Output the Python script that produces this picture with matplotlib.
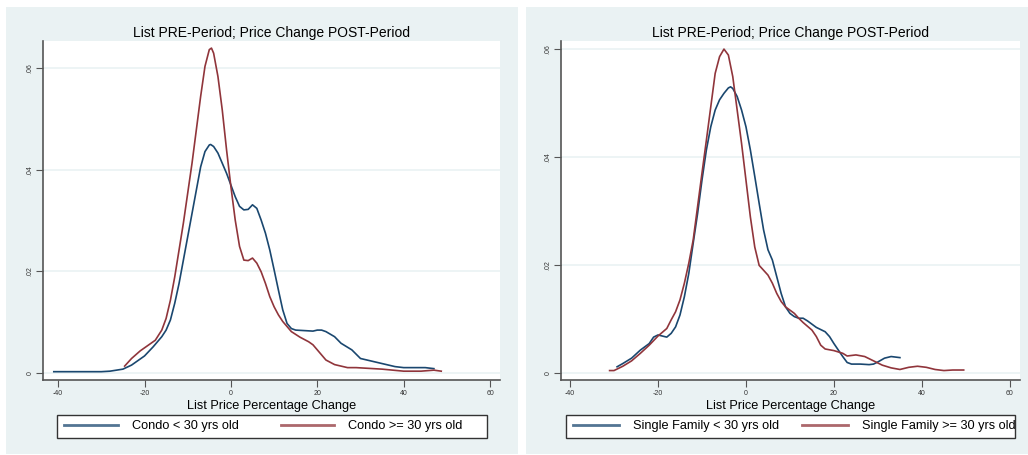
import matplotlib.pyplot as plt
import matplotlib.patches as patches
import numpy as np

# Condo panel (left)
condo_new_x = [-41, -30, -28, -25, -23, -20, -18, -16, -15, -14, -13, -12, -11, -10, -9, -8, -7, -6, -5, -4.7,
               -4, -3, -2, -1, 0, 1, 2, 3, 4, 5, 6, 7, 8, 9, 10, 11, 12, 13, 14, 15, 17, 19, 20, 21, 22, 24,
               25.5, 28, 30, 32, 35, 38, 40, 43, 45, 47]
condo_new_y = [0.0002, 0.0002, 0.0003, 0.0007, 0.0015, 0.0033, 0.0051, 0.0071, 0.0084, 0.0104, 0.0137, 0.0176,
               0.0222, 0.0268, 0.0314, 0.036, 0.0406, 0.0436, 0.0449, 0.045, 0.0446, 0.0433, 0.0413, 0.0393,
               0.037, 0.0347, 0.0328, 0.0321, 0.0322, 0.0331, 0.0324, 0.0301, 0.0275, 0.0242, 0.0203, 0.0163,
               0.0124, 0.0097, 0.0087, 0.0084, 0.0083, 0.0082, 0.0084, 0.0084, 0.0081, 0.0071, 0.0058, 0.0045,
               0.0028, 0.0024, 0.0018, 0.0012, 0.001, 0.001, 0.001, 0.0008]
condo_old_x = [-24.6, -23, -21, -19, -17.5, -16, -15, -14, -13, -12, -11, -10, -9, -8, -7, -6, -5, -4.5, -4,
               -3, -2, -1, 0, 1, 2, 3, 4, 5, 6, 7, 8, 9, 10, 11, 12, 14, 16, 18, 19, 20, 22, 24, 27, 29, 31,
               35, 40, 44, 47, 48.7]
condo_old_y = [0.0013, 0.0028, 0.0043, 0.0055, 0.0064, 0.0084, 0.0107, 0.0143, 0.0189, 0.0242, 0.0295, 0.0354,
               0.0413, 0.0479, 0.0545, 0.0604, 0.0637, 0.064, 0.063, 0.0584, 0.0518, 0.0439, 0.0367, 0.0301,
               0.0249, 0.0222, 0.0221, 0.0226, 0.0216, 0.0199, 0.0176, 0.015, 0.013, 0.0114, 0.0101, 0.0081,
               0.007, 0.0061, 0.0055, 0.0045, 0.0025, 0.0016, 0.001, 0.001, 0.0009, 0.0007, 0.0003, 0.0003,
               0.0005, 0.0003]

# Single family panel (right)
sf_new_x = [-29.3, -28, -26, -24, -22, -21, -20, -19, -18, -17, -16, -15, -14, -13, -12, -11, -10, -9, -8, -7,
            -6, -5, -4, -3.5, -3, -2, -1, 0, 1, 2, 3, 4, 5, 6, 7, 8, 9, 10, 11, 12, 13, 14, 15, 16, 17, 18,
            19, 20, 21, 22, 23, 24, 26, 28, 29, 30, 31.5, 33, 35]
sf_new_y = [0.0011, 0.0017, 0.0027, 0.0042, 0.0054, 0.0066, 0.007, 0.0068, 0.0066, 0.0073, 0.0085, 0.0107,
            0.0141, 0.0184, 0.024, 0.0295, 0.0357, 0.0413, 0.0456, 0.0487, 0.0506, 0.0518, 0.0528, 0.053,
            0.0527, 0.0512, 0.0487, 0.0456, 0.0413, 0.0364, 0.0314, 0.0265, 0.0228, 0.0209, 0.0178, 0.0147,
            0.0122, 0.011, 0.0104, 0.0101, 0.0101, 0.0096, 0.009, 0.0084, 0.008, 0.0076, 0.0067, 0.0054,
            0.0042, 0.003, 0.0019, 0.0016, 0.0016, 0.0015, 0.0016, 0.002, 0.0027, 0.003, 0.0028]
sf_old_x = [-31, -30, -28, -26, -24, -22, -20, -18, -17, -16, -15, -14, -13, -12, -11, -10, -9, -8, -7, -6,
            -5, -4, -3, -2, -1, 0, 1, 2, 3, 4, 5, 6, 7, 8, 9, 10, 11, 12, 13, 15, 16, 17, 18, 20, 22, 23,
            25, 27, 29, 31, 33, 35, 37, 39, 41, 43, 45, 47, 49.5]
sf_old_y = [0.0004, 0.0004, 0.0012, 0.0022, 0.0036, 0.0051, 0.0068, 0.0082, 0.0098, 0.0113, 0.0135, 0.0166,
            0.0203, 0.0246, 0.0308, 0.037, 0.0431, 0.0493, 0.0555, 0.0586, 0.06, 0.0589, 0.0549, 0.0487,
            0.0425, 0.0357, 0.0289, 0.0233, 0.0199, 0.019, 0.0181, 0.0166, 0.0147, 0.0132, 0.0122, 0.0116,
            0.011, 0.0101, 0.0093, 0.0079, 0.0067, 0.0051, 0.0044, 0.0041, 0.0036, 0.0031, 0.0033, 0.003,
            0.0022, 0.0014, 0.0009, 0.0006, 0.001, 0.0012, 0.001, 0.0006, 0.0004, 0.0005, 0.0005]

x_ticks = [-40, -20, 0, 20, 40, 60]
y_ticks = [0, 0.02, 0.04, 0.06]
y_tick_labels = ["0", ".02", ".04", ".06"]

title = "List PRE-Period; Price Change POST-Period"
xlabel = "List Price Percentage Change"

navy = "#1a476f"
maroon = "#90353b"
bg = "#eaf2f3"

plt.rcParams["font.family"] = ["Liberation Sans", "DejaVu Sans"]

fig = plt.figure(figsize=(10.28, 4.55), dpi=100)
W, H = 1028, 455


def px(x0, y0, x1, y1):
    # caja en pixeles (origen arriba-izquierda) -> fraccion de figura
    return [x0 / W, 1 - y1 / H, (x1 - x0) / W, (y1 - y0) / H]


for box in [(6, 7, 518, 454), (526, 7, 1028, 454)]:
    l, b, w, h = px(*box)
    fig.patches.append(patches.Rectangle((l, b), w, h, transform=fig.transFigure,
                                         facecolor=bg, edgecolor="none", zorder=-10))

paneles = [
    dict(box=(43, 41, 500, 380), xlim=(-43.5, 62.3), ylim=(-0.00144, 0.0654),
         series=[(condo_new_x, condo_new_y, navy, "Condo < 30 yrs old"),
                 (condo_old_x, condo_old_y, maroon, "Condo >= 30 yrs old")],
         leg=(57, 415, 487, 438), hl=4.2, cs=3.3),
    dict(box=(561, 41, 1020, 380), xlim=(-42.05, 62.3), ylim=(-0.00135, 0.0615),
         series=[(sf_new_x, sf_new_y, navy, "Single Family < 30 yrs old"),
                 (sf_old_x, sf_old_y, maroon, "Single Family >= 30 yrs old")],
         leg=(566, 415, 1015, 438), hl=3.6, cs=1.8),
]

for p in paneles:
    ax = fig.add_axes(px(*p["box"]))
    ax.set_facecolor("white")
    lineas = []
    for xs, ys, c, lab in p["series"]:
        ln, = ax.plot(xs, ys, color=c, lw=1.2, label=lab, zorder=3)
        lineas.append(ln)
    ax.set_xlim(*p["xlim"])
    ax.set_ylim(*p["ylim"])
    ax.set_xticks(x_ticks)
    ax.set_xticklabels([str(t) for t in x_ticks], fontsize=5, color="#333333")
    ax.set_yticks(y_ticks)
    ax.set_yticklabels(y_tick_labels, fontsize=5, color="#333333", rotation=90, va="center")
    for y in y_ticks:
        ax.axhline(y, color=bg, lw=1.2, zorder=1)
    for s in ["top", "right"]:
        ax.spines[s].set_visible(False)
    for s in ["left", "bottom"]:
        ax.spines[s].set_color("#555555")
        ax.spines[s].set_linewidth(1.2)
    ax.tick_params(length=5, width=0.8, color="#555555", pad=2)
    ax.set_title(title, fontsize=10, pad=3)
    ax.set_xlabel(xlabel, fontsize=9.2, labelpad=2)

    # marco de la leyenda
    l, b, w, h = px(*p["leg"])
    fig.patches.append(patches.Rectangle((l, b), w, h, transform=fig.transFigure,
                                         facecolor="white", edgecolor="#333333", lw=1.0, zorder=-5))
    leg = fig.legend(handles=lineas, loc="center left", bbox_to_anchor=(l + 7 / W, b + h / 2),
                     bbox_transform=fig.transFigure, ncol=2, fontsize=9.2, frameon=False,
                     handlelength=p["hl"], handletextpad=1.1, columnspacing=p["cs"],
                     borderpad=0, borderaxespad=0)
    for ln in leg.get_lines():
        ln.set_linewidth(2)
        ln.set_alpha(0.75)

fig.savefig("out.png", dpi=100)
